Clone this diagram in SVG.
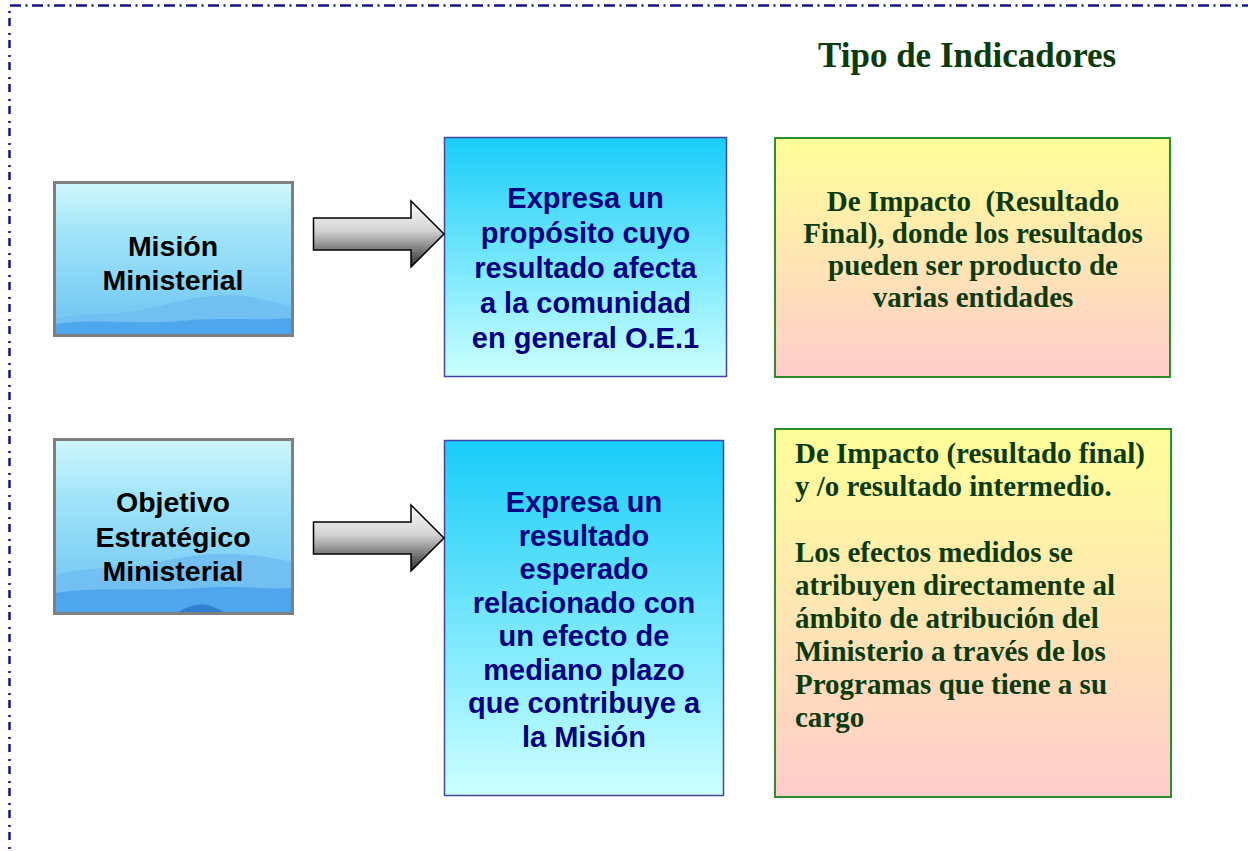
<svg xmlns="http://www.w3.org/2000/svg" width="1248" height="851" viewBox="0 0 1248 851">
<defs>
<linearGradient id="gSky" x1="0" y1="0" x2="0" y2="1">
<stop offset="0" stop-color="#d0f6fc"/>
<stop offset="0.3" stop-color="#a4e6f9"/>
<stop offset="0.65" stop-color="#86d4f6"/>
<stop offset="1" stop-color="#6cc2f2"/>
</linearGradient>
<linearGradient id="gBlue" x1="0" y1="0" x2="0" y2="1">
<stop offset="0" stop-color="#18cdf9"/>
<stop offset="1" stop-color="#ccffff"/>
</linearGradient>
<linearGradient id="gYellow" x1="0" y1="0" x2="0" y2="1">
<stop offset="0" stop-color="#ffff99"/>
<stop offset="1" stop-color="#ffcccc"/>
</linearGradient>
<linearGradient id="gArrow" x1="0" y1="0" x2="0" y2="1">
<stop offset="0" stop-color="#ffffff"/>
<stop offset="0.45" stop-color="#d2d2d2"/>
<stop offset="1" stop-color="#2c2c2c"/>
</linearGradient>
<clipPath id="c1"><rect x="55" y="184" width="236" height="150"/></clipPath>
<clipPath id="c2"><rect x="55" y="440" width="236" height="172"/></clipPath>
</defs>
<style>
.frameH{fill:none;stroke:#14148a;stroke-width:2.5;stroke-dasharray:11 4.5 2 4.5}
.frameV{fill:none;stroke:#14148a;stroke-width:2.5;stroke-dasharray:2 5 8 7}
.imgbox{fill:url(#gSky);stroke:#808080;stroke-width:3}
.far{fill:#72bff2}
.near{fill:#4ea6ec}
.blue{fill:url(#gBlue);stroke:#4444a4;stroke-width:1.5}
.yellow{fill:url(#gYellow);stroke:#2b8f2b;stroke-width:2}
.arrow{fill:url(#gArrow);stroke:#000;stroke-width:1.5;stroke-linejoin:miter}
.lbl{font-family:"Liberation Sans",Arial,sans-serif;font-weight:bold;font-size:28.5px;fill:#000;text-anchor:middle}
.btxt{font-family:"Liberation Sans",Arial,sans-serif;font-weight:bold;font-size:29px;fill:#000080;text-anchor:middle}
.ytxt{font-family:"Liberation Serif","Times New Roman",serif;font-weight:bold;font-size:29px;fill:#0b3b0b}
.title{font-family:"Liberation Serif","Times New Roman",serif;font-weight:bold;font-size:35px;fill:#0b3b0b}
</style>
<rect width="1248" height="851" fill="#ffffff"/>
<g id="frame">
<line class="frameH" x1="10" y1="5.5" x2="1248" y2="5.5"/>
<line class="frameV" x1="9.5" y1="11" x2="9.5" y2="851"/>
</g>
<g id="title"><text class="title" x="818" y="67">Tipo de Indicadores</text></g>

<g id="mision">
<rect class="imgbox" x="54.5" y="182.5" width="238" height="153"/>
<g clip-path="url(#c1)">
<path class="far" d="M55,318 C90,312 120,316 150,308 C180,300 210,294 235,295 C255,296 275,303 291,306 L291,334 L55,334Z"/>
<path class="near" d="M55,324 C100,318 140,325 180,321 C220,317 260,321 291,318 L291,334 L55,334Z"/>
</g>
<rect x="54.5" y="182.5" width="238" height="153" fill="none" stroke="#808080" stroke-width="3"/>
<text class="lbl" x="173" y="256">Misión</text>
<text class="lbl" x="173" y="290">Ministerial</text>
</g>

<g id="objetivo">
<rect class="imgbox" x="54.5" y="439.5" width="238" height="174"/>
<g clip-path="url(#c2)">
<path class="far" d="M55,575 C90,565 130,570 160,562 C190,555 220,552 250,555 C270,557 285,560 291,562 L291,612 L55,612Z"/>
<path class="near" d="M55,593 C100,586 150,592 200,588 C240,585 270,590 291,588 L291,612 L55,612Z"/>
<path d="M178,612 C188,606 198,603 208,605 C214,607 220,610 224,612Z" fill="#2f7fd0"/>
</g>
<rect x="54.5" y="439.5" width="238" height="174" fill="none" stroke="#808080" stroke-width="3"/>
<text class="lbl" x="173" y="512">Objetivo</text>
<text class="lbl" x="173" y="547">Estratégico</text>
<text class="lbl" x="173" y="581">Ministerial</text>
</g>

<g id="desc1">
<rect class="blue" x="444.5" y="137.5" width="282" height="239"/>
<text class="btxt" x="585.5" y="208">Expresa un</text>
<text class="btxt" x="585.5" y="243">propósito cuyo</text>
<text class="btxt" x="585.5" y="278">resultado afecta</text>
<text class="btxt" x="585.5" y="313">a la comunidad</text>
<text class="btxt" x="585.5" y="348">en general O.E.1</text>
</g>

<g id="desc2">
<rect class="blue" x="444.5" y="440.5" width="279" height="355"/>
<text class="btxt" x="584" y="512">Expresa un</text>
<text class="btxt" x="584" y="545.5">resultado</text>
<text class="btxt" x="584" y="579">esperado</text>
<text class="btxt" x="584" y="612.5">relacionado con</text>
<text class="btxt" x="584" y="646">un efecto de</text>
<text class="btxt" x="584" y="679.5">mediano plazo</text>
<text class="btxt" x="584" y="713">que contribuye a</text>
<text class="btxt" x="584" y="746.5">la Misión</text>
</g>

<g id="tipo1">
<rect class="yellow" x="775" y="138" width="395" height="239"/>
<text class="ytxt" x="973" y="211" text-anchor="middle" xml:space="preserve">De Impacto  (Resultado</text>
<text class="ytxt" x="973" y="243" text-anchor="middle">Final), donde los resultados</text>
<text class="ytxt" x="973" y="275" text-anchor="middle">pueden ser producto de</text>
<text class="ytxt" x="973" y="307" text-anchor="middle">varias entidades</text>
</g>

<g id="tipo2">
<rect class="yellow" x="775" y="429" width="396" height="368"/>
<text class="ytxt" x="795" y="463">De Impacto (resultado final)</text>
<text class="ytxt" x="795" y="496">y /o resultado intermedio.</text>
<text class="ytxt" x="795" y="562">Los efectos medidos se</text>
<text class="ytxt" x="795" y="595">atribuyen directamente al</text>
<text class="ytxt" x="795" y="628">ámbito de atribución del</text>
<text class="ytxt" x="795" y="661">Ministerio a través de los</text>
<text class="ytxt" x="795" y="694">Programas que tiene a su</text>
<text class="ytxt" x="795" y="727">cargo</text>
</g>

<g id="connectors">
<polygon class="arrow" points="313.5,218 411,218 411,201 444,234 411,267 411,250 313.5,250"/>
<polygon class="arrow" points="313.5,522 411,522 411,505 444,538 411,571 411,554 313.5,554"/>
</g>
</svg>
